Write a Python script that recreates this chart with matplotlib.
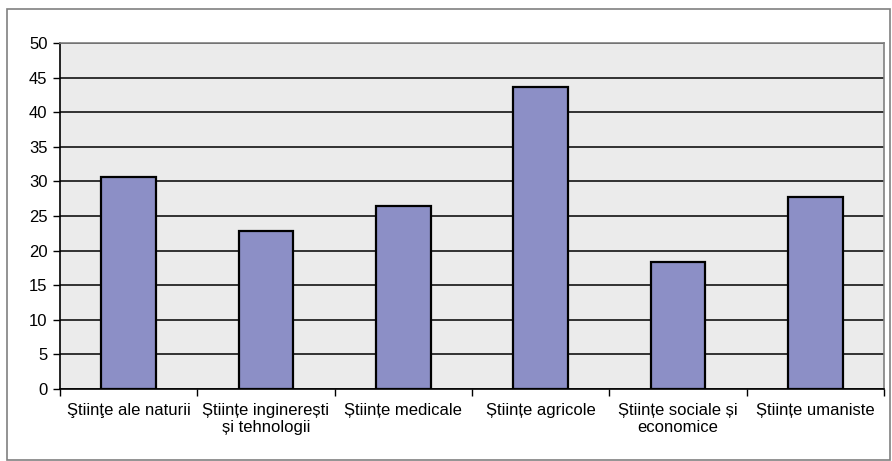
import matplotlib.pyplot as plt
from matplotlib.patches import Rectangle

# Data
categories = ['Ştiinţe ale naturii', 'Științe inginerești\nși tehnologii', 'Științe medicale',
              'Științe agricole', 'Științe sociale și\neconomice', 'Științe umaniste']
values = [30.7, 22.9, 26.5, 43.7, 18.4, 27.8]
y_ticks = list(range(0, 55, 5))

plt.rcParams['font.family'] = ['Liberation Sans', 'DejaVu Sans']

fig = plt.figure(figsize=(8.92, 4.61), dpi=100)
W, H = 892, 461

# Outer chart border
fig.patches.append(Rectangle((7 / W, 1 - 460 / H), (890 - 7) / W, (460 - 9) / H,
                             transform=fig.transFigure, fill=False,
                             edgecolor='#808080', linewidth=1.2))

ax = fig.add_axes([60 / W, (H - 389) / H, (884 - 60) / W, (389 - 43) / H])
ax.set_facecolor('#EBEBEB')

x = range(len(categories))
ax.bar(x, values, width=0.4, color='#8C8FC6', edgecolor='black', linewidth=1.6, zorder=3)

ax.set_xlim(-0.5, len(categories) - 0.5)
ax.set_ylim(0, 50)
ax.set_yticks(y_ticks)
ax.yaxis.grid(True, color='black', linewidth=1.1, zorder=0)
ax.set_axisbelow(True)

# Category labels at centers, tick marks at boundaries
ax.set_xticks(list(x))
ax.set_xticklabels(categories, fontsize=12, linespacing=1.15)
ax.tick_params(axis='x', which='major', length=0, pad=10)
ax.set_xticks([i - 0.5 for i in range(len(categories) + 1)], minor=True)
ax.tick_params(axis='x', which='minor', length=5, width=1, direction='out', color='black')
ax.tick_params(axis='y', length=5, width=1, direction='out', labelsize=12, pad=4)

for s in ['top', 'right']:
    ax.spines[s].set_color('#808080')
    ax.spines[s].set_linewidth(1.2)
for s in ['left', 'bottom']:
    ax.spines[s].set_color('black')
    ax.spines[s].set_linewidth(1.2)

plt.savefig('out.png', dpi=100)
